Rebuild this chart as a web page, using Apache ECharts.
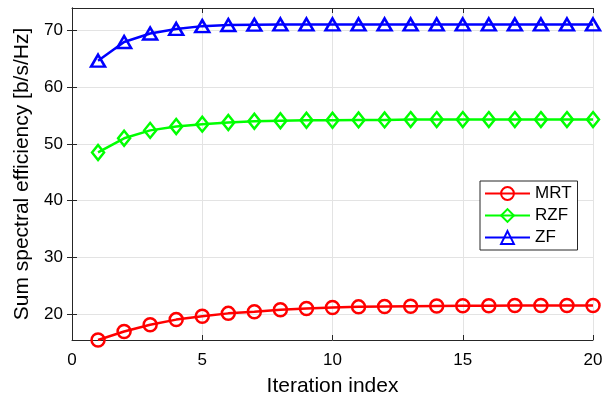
<!DOCTYPE html>
<html>
<head>
<meta charset="utf-8">
<script src="https://cdn.jsdelivr.net/npm/echarts@6/dist/echarts.min.js"></script>
<style>
html,body{margin:0;padding:0;background:#fff;}
#c{width:614px;height:395px;}
</style>
</head>
<body>
<div id="c"></div>
<script>
var iterations = [1,2,3,4,5,6,7,8,9,10,11,12,13,14,15,16,17,18,19,20];
var mrt = [15.4,16.9,18.1,19.0,19.6,20.1,20.4,20.75,20.95,21.15,21.25,21.3,21.35,21.4,21.45,21.45,21.5,21.5,21.5,21.5];
var rzf = [48.5,51.0,52.4,53.1,53.5,53.8,54.0,54.1,54.2,54.2,54.25,54.25,54.3,54.3,54.3,54.3,54.3,54.3,54.3,54.3];
var zf  = [64.7,68.0,69.5,70.3,70.8,71.0,71.05,71.1,71.1,71.1,71.1,71.1,71.1,71.1,71.1,71.1,71.1,71.1,71.1,71.1];
var yTicks = [20,30,40,50,60,70];
var xTicks = [0,5,10,15,20];
var seriesNames = ['MRT','RZF','ZF'];
var xTitle = 'Iteration index';
var yTitle = 'Sum spectral efficiency [b/s/Hz]';

function pairs(vals){ return iterations.map(function(x,i){ return [x, vals[i]]; }); }
var FONT = "'Liberation Sans', Arial, sans-serif";
var AX = '#262626';

function mk(name, vals, color, symbol, size){
  return {
    name: name, type: 'line', data: pairs(vals),
    symbol: symbol, symbolSize: size, showAllSymbol: true,
    lineStyle: {color: color, width: 2.5},
    itemStyle: {color: 'rgba(255,255,255,0)', borderColor: color, borderWidth: 2.5},
    emphasis: {disabled: true}
  };
}

var chart = echarts.init(document.getElementById('c'), null, {renderer: 'canvas'});
chart.setOption({
  animation: false,
  backgroundColor: '#fff',
  grid: {left: 72, right: 21, top: 8, bottom: 55, containLabel: false, outerBoundsMode: 'none'},
  legend: {
    show: true, data: seriesNames, orient: 'vertical', left: 480, top: 181,
    padding: [4, 6, 4, 4], itemGap: 5, itemWidth: 45, itemHeight: 16,
    backgroundColor: '#fff', borderColor: AX, borderWidth: 1,
    textStyle: {fontFamily: FONT, fontSize: 17, color: '#000'}
  },
  xAxis: [{
    type: 'value', min: 0, max: 20, position: 'bottom',
    name: xTitle, nameLocation: 'middle', nameGap: 36,
    nameTextStyle: {fontFamily: FONT, fontSize: 21, color: '#000'},
    axisLine: {show: true, lineStyle: {color: AX, width: 1}},
    axisTick: {show: true, inside: true, length: 5, lineStyle: {color: AX}, customValues: xTicks},
    axisLabel: {fontFamily: FONT, fontSize: 17, color: '#000', margin: 12, customValues: xTicks},
    splitLine: {show: true, lineStyle: {color: '#e3e3e3', width: 1}}
  },{
    type: 'value', min: 0, max: 20, position: 'top',
    axisLine: {show: true, lineStyle: {color: AX, width: 1}},
    axisTick: {show: true, inside: true, length: 5, lineStyle: {color: AX}, customValues: xTicks},
    axisLabel: {show: false}, splitLine: {show: false}
  }],
  yAxis: [{
    type: 'value', min: 15.4, max: 74, position: 'left',
    name: yTitle, nameLocation: 'middle', nameGap: 39,
    nameTextStyle: {fontFamily: FONT, fontSize: 21, color: '#000'},
    axisLine: {show: true, lineStyle: {color: AX, width: 1}},
    axisTick: {show: true, inside: true, length: 5, lineStyle: {color: AX}, customValues: yTicks},
    axisLabel: {fontFamily: FONT, fontSize: 17, color: '#000', margin: 9, customValues: yTicks},
    splitLine: {show: true, lineStyle: {color: '#e3e3e3', width: 1}}
  },{
    type: 'value', min: 15.4, max: 74, position: 'right',
    axisLine: {show: true, lineStyle: {color: AX, width: 1}},
    axisTick: {show: true, inside: true, length: 5, lineStyle: {color: AX}, customValues: yTicks},
    axisLabel: {show: false}, splitLine: {show: false}
  }],
  series: [
    mk('MRT', mrt, '#ff0000', 'circle', 13),
    mk('RZF', rzf, '#00ff00', 'diamond', [12, 15]),
    mk('ZF', zf, '#0000ff', 'triangle', [14, 12])
  ]
});
</script>
</body>
</html>
